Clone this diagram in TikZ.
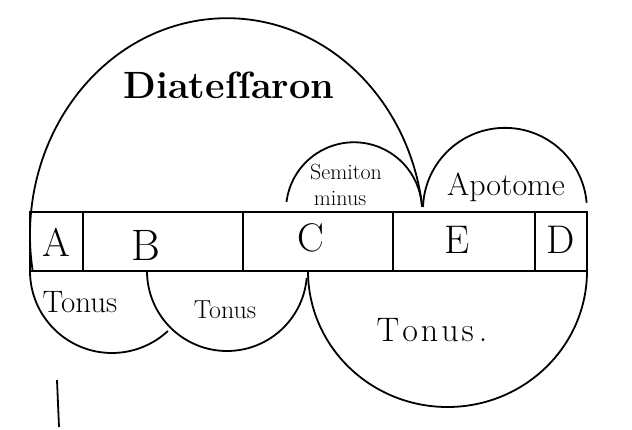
\documentclass[tikz,border=0pt]{standalone}

\begin{document}
\begin{tikzpicture}[x=1pt,y=1pt,line width=1.8pt]
  \tikzstyle{cell}=[inner sep=0pt,font=\fontsize{40}{40}\selectfont]
  \tikzstyle{tonus}=[inner sep=0pt]
  \useasboundingbox (0,0) rectangle (632,429);
  % the string, cut into its five sections
  \draw (30,158) rectangle (587,217);
  \draw (83,158) -- (83,217);
  \draw (243,158) -- (243,217);
  \draw (393,158) -- (393,217);
  \draw (535,158) -- (535,217);
  \node[cell] (a) at (56,187) {A};
  \node[cell,font=\fontsize{44}{44}\selectfont] (b) at (146,184) {B};
  \node[cell] (c) at (311,191) {C};
  \node[cell] (e) at (457,189) {E};
  \node[cell] (d) at (561,189) {D};
  % arcs above the string
  \draw (32.7,158) arc[start angle=189.5,end angle=7.7,x radius=197,y radius=217];
  \draw (286.5,227) arc[start angle=173,end angle=3,radius=68];
  \draw (423,222) arc[start angle=178,end angle=5,radius=82];
  \node[inner sep=0pt,font=\bfseries\fontsize{38}{38}\selectfont] (diat) at (229,344) {Diateſſaron};
  \node[inner sep=0pt,font=\fontsize{22}{22}\selectfont] (semi) at (346,257) {Semiton};
  \node[inner sep=0pt,font=\fontsize{22}{22}\selectfont] (minus) at (340,231) {minus};
  \node[inner sep=0pt,font=\fontsize{32}{32}\selectfont] (apo) at (506,242) {Apotome};
  % arcs below the string
  \draw (30,158) arc[start angle=180,end angle=313,radius=82];
  \draw (147,158) arc[start angle=180,end angle=355,radius=80];
  \draw (308,158) arc[start angle=180,end angle=360,x radius=139.5,y radius=136];
  \node[tonus,font=\fontsize{31}{31}\selectfont] (t1) at (80,127) {Tonus};
  \node[tonus,font=\fontsize{26}{26}\selectfont] (t2) at (225,119) {Tonus};
  \node[tonus,font=\fontsize{34}{34}\selectfont] (t3) at (432,99) {T\kern3pt o\kern3pt n\kern3pt u\kern3pt s\kern5pt .};
  % stray stroke
  \draw (57,49) -- (59,2);
\end{tikzpicture}
\end{document}
